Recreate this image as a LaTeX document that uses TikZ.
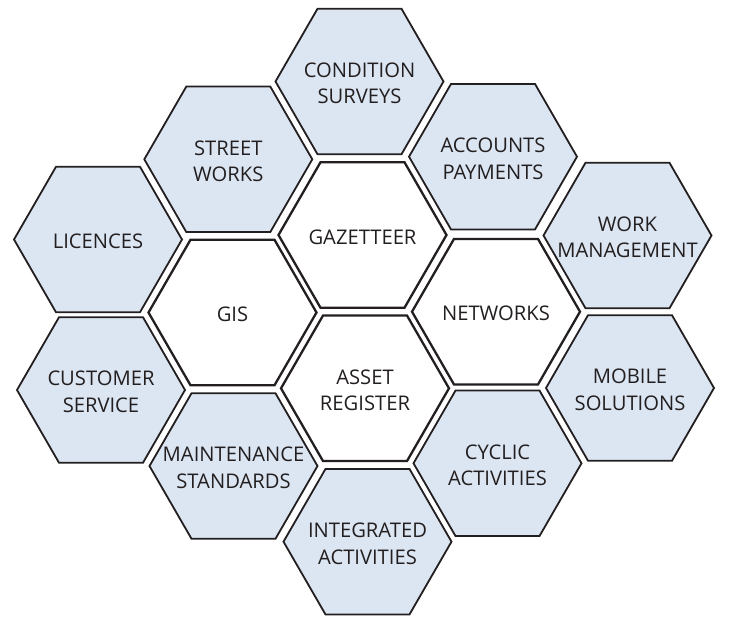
\documentclass[tikz,border=0pt]{standalone}
\usepackage{fontspec}
\setmainfont{Open Sans}
\usetikzlibrary{shapes.geometric}
\definecolor{hexfill}{RGB}{220,230,242}
\definecolor{hexline}{RGB}{35,31,32}
\definecolor{txt}{RGB}{35,31,32}
\tikzset{
  hex/.style={regular polygon, regular polygon sides=6, minimum size=168pt,
    inner sep=0pt, outer sep=0pt, draw=hexline, line join=miter},
  hexblue/.style={hex, fill=hexfill, line width=1.8pt},
  hexwhite/.style={hex, fill=white, line width=2.3pt},
  lbl/.style={align=center, text=txt, inner sep=0pt, yshift=-2pt,
    font=\fontsize{20.2}{26.5}\selectfont}
}
\begin{document}
\begin{tikzpicture}[x=1pt,y=-1pt]
\useasboundingbox (0,0) rectangle (732,618);
% outer ring
\node[hexblue] (cs) at (359.5,81.5) {};
\node[hexblue] (sw) at (228.3,159.3) {};
\node[hexblue] (ap) at (493,156.7) {};
\node[hexblue] (li) at (98,239.5) {};
\node[hexblue] (wm) at (627.5,235.5) {};
\node[hexblue] (cu) at (101,390) {};
\node[hexblue] (ms) at (630,388) {};
\node[hexblue] (mt) at (233.5,466) {};
\node[hexblue] (ca) at (497.5,463.3) {};
\node[hexblue] (ia) at (367.5,541.7) {};
% inner core
\node[hexwhite] (gz) at (362.5,235) {};
\node[hexwhite] (gi) at (232.5,312.5) {};
\node[hexwhite] (nw) at (496,311.7) {};
\node[hexwhite] (ar) at (365,388.3) {};
% labels
\node[lbl] (cs-t) at (cs) {CONDITION\\SURVEYS};
\node[lbl] (sw-t) at (sw) {STREET\\WORKS};
\node[lbl] (ap-t) at (ap) {ACCOUNTS\\PAYMENTS};
\node[lbl] (li-t) at (li) {LICENCES};
\node[lbl] (wm-t) at (wm) {WORK\\MANAGEMENT};
\node[lbl] (cu-t) at (cu) {CUSTOMER\\SERVICE};
\node[lbl] (ms-t) at (ms) {MOBILE\\SOLUTIONS};
\node[lbl] (mt-t) at (mt) {MAINTENANCE\\STANDARDS};
\node[lbl] (ca-t) at (ca) {CYCLIC\\ACTIVITIES};
\node[lbl] (ia-t) at (ia) {INTEGRATED\\ACTIVITIES};
\node[lbl] (gz-t) at (gz) {GAZETTEER};
\node[lbl] (gi-t) at (gi) {GIS};
\node[lbl] (nw-t) at (nw) {NETWORKS};
\node[lbl] (ar-t) at (ar) {ASSET\\REGISTER};
\end{tikzpicture}
\end{document}
